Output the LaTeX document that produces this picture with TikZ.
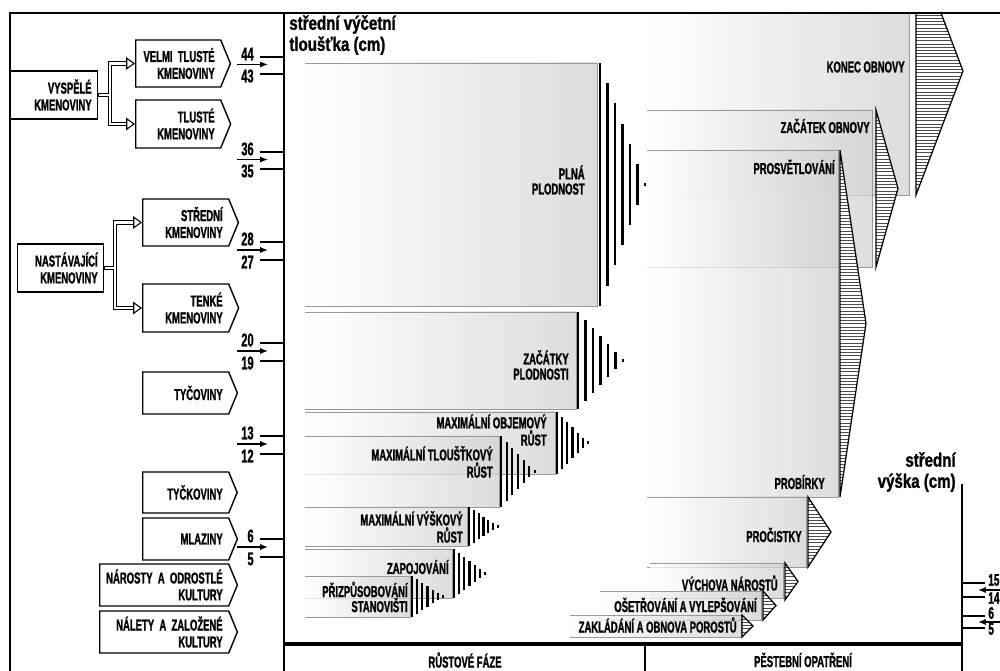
\documentclass[tikz,border=0pt]{standalone}
\usepackage{fontspec}
\newfontfamily\condf{Liberation Sans}[FakeStretch=0.6,FakeBold=1.2]
\newfontfamily\axisf{Liberation Sans}[FakeStretch=0.78,FakeBold=1.2]
\usetikzlibrary{arrows.meta,shapes.symbols}

% gray gradient bar: left, right, top, bottom
\newcommand{\phasebar}[4]{%
  \shade[barfill] (#1,#3) rectangle (#2,#4);
  \draw[baredge] (#1,#3) -- (#2,#3) -- (#2,#4) -- (#1,#4);}
% triangle of vertical strokes: base x, tip x, top, bottom
\newcommand{\vhatch}[4]{%
  \foreach \k in {0,...,6}{
    \pgfmathsetmacro{\hatchx}{#1+\k*((#2)-(#1))/6}
    \pgfmathsetmacro{\hatchh}{max(((#4)-(#3))/2*(1-\k/6),1.5)}
    \draw[vline] (\hatchx,{((#3)+(#4))/2-\hatchh}) -- (\hatchx,{((#3)+(#4))/2+\hatchh});
  }}
% outlined triangle of horizontal strokes: base x, tip x, top, bottom
\newcommand{\hhatch}[4]{%
  \begin{scope}
    \clip (#1,#3) -- (#2,{((#3)+(#4))/2}) -- (#1,#4) -- cycle;
    \fill[white] (#1,#3) rectangle (#2,#4);
    \pgfmathtruncatemacro{\hatchn}{((#4)-(#3))/3.2}
    \foreach \k in {0,...,\hatchn}
      \draw[hline] (#1,{#3+1+\k*3.2}) -- (#2,{#3+1+\k*3.2});
  \end{scope}
  \draw[hedge] (#1,#3) -- (#2,{((#3)+(#4))/2}) -- (#1,#4) -- cycle;}

\tikzset{
  borderline/.style={line width=1.3pt},
  axtick/.style={line width=1.4pt},
  ptr/.style={line width=0.7pt,-{Latex[length=4.5pt,width=3.5pt]}},
  numlabel/.style={font=\condf\bfseries\fontsize{10.5}{12}\selectfont,inner sep=0pt},
  axislabel/.style={font=\axisf\bfseries\fontsize{11}{12}\selectfont,inner sep=0pt},
  phaselabel/.style={font=\condf\bfseries\fontsize{9}{8.6}\selectfont,align=right,inner sep=0pt,anchor=east},
  classbox/.style={signal,signal to=east,signal pointer angle=135,draw,line width=0.8pt,fill=white,
    font=\condf\bfseries\fontsize{9}{9.6}\selectfont,align=right,text width=#1,
    inner xsep=0.12cm,inner ysep=0pt,anchor=west},
  groupbox/.style={rectangle,draw,line width=0.8pt,fill=white,
    font=\condf\bfseries\fontsize{9}{9.6}\selectfont,align=right,text width=#1,
    inner xsep=0.12cm,inner ysep=0pt,minimum height=0.96cm,anchor=west},
  barfill/.style={left color=white,right color=black!18,fill opacity=0.75},
  baredge/.style={draw=black!40,line width=0.4pt},
  vline/.style={line width=1.2pt},
  hline/.style={line width=0.35pt,black!70},
  hedge/.style={line width=0.7pt},
  dbl/.style={double,double distance=1.5pt,line width=0.6pt},
}

\begin{document}
\begin{tikzpicture}[x=0.02cm,y=-0.02cm]
\useasboundingbox (0,0) rectangle (1000,671);

% growth phases
\phasebar{305}{597}{63}{306}
\phasebar{305}{576}{312}{409}
\phasebar{305}{555}{412}{474}
\phasebar{305}{499}{436}{507}
\phasebar{305}{467}{507}{546}
\phasebar{305}{452}{549}{598}
\phasebar{305}{410}{576}{617}
\vhatch{600}{645}{63}{306}
\vhatch{578}{623}{312}{409}
\vhatch{557}{588}{412}{474}
\vhatch{501}{535}{436}{507}
\vhatch{469}{498}{507}{546}
\vhatch{454}{485}{549}{598}
\vhatch{412}{443}{576}{617}
\node[phaselabel] (plna) at (585,180) {PLNÁ\\PLODNOST};
\node[phaselabel] (zacpl) at (569,365) {ZAČÁTKY\\PLODNOSTI};
\node[phaselabel] (objem) at (547,430) {MAXIMÁLNÍ OBJEMOVÝ\\RŮST};
\node[phaselabel] (tloust) at (493,462) {MAXIMÁLNÍ TLOUŠŤKOVÝ\\RŮST};
\node[phaselabel] (vysk) at (463,527) {MAXIMÁLNÍ VÝŠKOVÝ\\RŮST};
\node[phaselabel] (zapoj) at (449,567) {ZAPOJOVÁNÍ};
\node[phaselabel] (prizp) at (408,597) {PŘIZPŮSOBOVÁNÍ\\STANOVIŠTI};

% silvicultural measures
\phasebar{647}{909}{13}{195}
\phasebar{647}{872}{110}{267}
\phasebar{647}{838}{150}{497}
\phasebar{647}{806}{497}{567}
\phasebar{650}{783}{563}{598}
\phasebar{600}{761}{591}{620}
\phasebar{570}{741}{615}{637}
\begin{scope}
  \clip (0,13) rectangle (1000,671);
  \hhatch{916}{963}{-53}{195}
\end{scope}
\hhatch{876}{898}{110}{267}
\hhatch{840}{866}{150}{497}
\hhatch{808}{831}{497}{567}
\hhatch{785}{798}{563}{600}
\hhatch{763}{776}{591}{620}
\hhatch{742}{753}{615}{637}
\node[phaselabel] (konec) at (905,67) {KONEC OBNOVY};
\node[phaselabel] (zacob) at (870,126) {ZAČÁTEK OBNOVY};
\node[phaselabel] (prosv) at (835,167) {PROSVĚTLOVÁNÍ};
\node[phaselabel] (probir) at (825,482) {PROBÍRKY};
\node[phaselabel] (procis) at (802,535) {PROČISTKY};
\node[phaselabel] (vychova) at (778,583) {VÝCHOVA NÁROSTŮ};
\node[phaselabel] (oset) at (757,605) {OŠETŘOVÁNÍ A VYLEPŠOVÁNÍ};
\node[phaselabel] (zaklad) at (737,625) {ZAKLÁDÁNÍ A OBNOVA POROSTŮ};

% frame and axes
\draw[borderline] (1000,13) -- (10,13) -- (10,671);
\draw[borderline] (284,13) -- (284,671);
\draw[borderline] (962,484) -- (962,671);
\draw[line width=2.8pt] (284,644) -- (962,644);
\draw[borderline] (645,644) -- (645,671);

\node[axislabel,anchor=north west,align=left] (dbh) at (289,15) {střední výčetní\\tloušťka (cm)};
\node[axislabel,anchor=east,align=right] (hgt) at (956,472) {střední\\výška (cm)};
\node[phaselabel,anchor=center] (rust) at (465,660) {RŮSTOVÉ FÁZE};
\node[phaselabel,anchor=center] (pest) at (803,660) {PĚSTEBNÍ OPATŘENÍ};

% diameter marks
\foreach \up/\lo/\a/\b in {44/43/57/74,36/35/152/169,28/27/242/260,20/19/343/361,13/12/436/454,6/5/539/557}{
  \draw[axtick] (260,\a) -- (284,\a);
  \draw[axtick] (260,\b) -- (284,\b);
  \node[numlabel,anchor=east] (d\up) at (254,\a-3) {\up};
  \node[numlabel,anchor=east] (d\lo) at (254,\b+2) {\lo};
  \draw[ptr] (237,{(\a+\b)/2-1}) -- (268,{(\a+\b)/2-1});
}
% height marks
\foreach \up/\lo/\a/\b in {15/14/583/597,6/5/616/628}{
  \draw[axtick] (962,\a) -- (985,\a);
  \draw[axtick] (962,\b) -- (985,\b);
  \node[numlabel,font=\condf\bfseries\fontsize{9.5}{10}\selectfont,anchor=west] (h\up) at (988,\a-3) {\up};
  \node[numlabel,font=\condf\bfseries\fontsize{9.5}{10}\selectfont,anchor=west] (h\lo) at (988,\b+1) {\lo};
  \draw[ptr] (1000,{(\a+\b)/2}) -- (978,{(\a+\b)/2});
}

% stand classes
\node[groupbox=1.50cm] (vysp) at (10,95) {VYSPĚLÉ\\KMENOVINY};
\node[groupbox=1.48cm] (nast) at (17,268) {NASTÁVAJÍCÍ\\KMENOVINY};
\node[classbox=1.46cm,minimum height=0.94cm] (velmi) at (135,63.5) {VELMI TLUSTÉ\\KMENOVINY};
\node[classbox=1.46cm,minimum height=0.96cm] (tlust) at (135,124) {TLUSTÉ\\KMENOVINY};
\node[classbox=1.48cm,minimum height=0.94cm] (stred) at (142,222.5) {STŘEDNÍ\\KMENOVINY};
\node[classbox=1.48cm,minimum height=0.96cm] (tenke) at (142,308) {TENKÉ\\KMENOVINY};
\node[classbox=1.48cm,minimum height=0.84cm] (tyc) at (142,393) {TYČOVINY};
\node[classbox=1.48cm,minimum height=0.82cm] (tyck) at (142,492.5) {TYČKOVINY};
\node[classbox=1.48cm,minimum height=0.84cm] (mlaz) at (142,539) {MLAZINY};
\node[classbox=2.34cm,minimum height=0.84cm] (narost) at (99,585) {NÁROSTY A ODROSTLÉ\\KULTURY};
\node[classbox=2.34cm,minimum height=0.84cm] (nalet) at (99,632) {NÁLETY A ZALOŽENÉ\\KULTURY};

% double connectors
\draw[line width=2.7pt] (vysp.east) -- ++(13,0);
\draw[dbl,{Triangle[open,length=5pt,width=7pt]}-{Triangle[open,length=5pt,width=7pt]}] (velmi.west) -- ++(-25,0) |- (tlust.west);
\draw[white,line width=1.5pt] (vysp.east) ++(1,0) -- ++(12,0);
\draw[line width=2.7pt] (nast.east) -- ++(12,0);
\draw[dbl,{Triangle[open,length=5pt,width=7pt]}-{Triangle[open,length=5pt,width=7pt]}] (stred.west) -- ++(-27,0) |- (tenke.west);
\draw[white,line width=1.5pt] (nast.east) ++(1,0) -- ++(11,0);
\end{tikzpicture}
\end{document}
